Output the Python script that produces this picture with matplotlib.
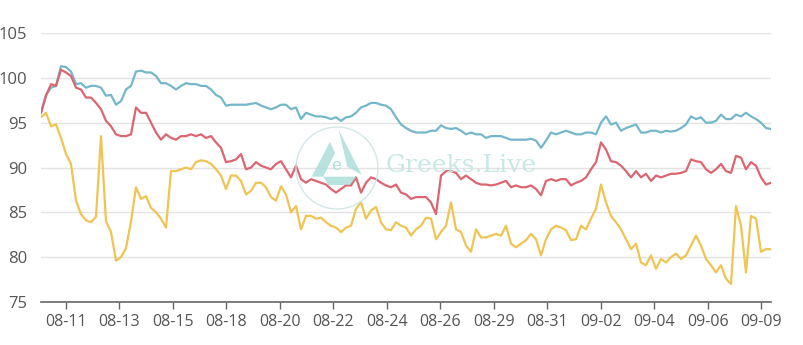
import matplotlib
matplotlib.use("Agg")
import matplotlib.pyplot as plt
from matplotlib.patches import Circle, Polygon
import numpy as np

tick_labels = ["08-11", "08-13", "08-15", "08-18", "08-20", "08-22", "08-24",
               "08-26", "08-29", "08-31", "09-02", "09-04", "09-06", "09-09"]

blue = [96.1, 98.1, 98.9, 99.1, 101.3, 101.2, 100.7, 99.3, 99.4, 98.9, 99.1, 99.1, 98.9, 98.0, 98.1,
        97.0, 97.4, 98.7, 99.1, 100.7, 100.8, 100.6, 100.6, 100.2, 99.4,
        99.4, 99.1, 98.7, 99.1, 99.4, 99.3, 99.3, 99.1, 99.1, 98.7, 98.1, 97.8, 96.9, 97.0, 97.0, 97.0,
        97.0, 97.1, 97.2, 96.9, 96.7, 96.5, 96.7, 97.0,
        97.0, 96.5, 96.7, 95.4, 96.1, 95.9, 95.7, 95.7, 95.6, 95.4, 95.6, 95.2, 95.6, 95.7, 96.1, 96.7,
        96.9, 97.2, 97.2, 97.0, 96.9, 96.5, 95.6, 94.8,
        94.4, 94.1, 93.9, 93.9, 93.9, 94.1, 94.1, 94.7, 94.4, 94.3, 94.4, 94.1, 93.7, 93.9, 93.7, 93.7,
        93.3, 93.5, 93.5, 93.5, 93.3, 93.1, 93.1, 93.1,
        93.1, 93.2, 93.0, 92.2, 93.0, 93.9, 93.7, 93.9, 94.1, 93.9, 93.7, 93.7, 93.9, 93.9, 93.7, 95.0,
        95.7, 94.8, 95.0, 94.1, 94.4, 94.6, 94.8, 93.9,
        93.9, 94.1, 94.1, 93.9, 94.1, 94.0, 94.1, 94.4, 94.8, 95.7, 95.4, 95.6, 95.0, 95.0, 95.2, 95.9,
        95.4, 95.4, 95.9, 95.7, 96.1, 95.7, 95.4, 95.0, 94.4, 94.3]

red = [96.1, 98.0, 99.3, 99.1, 100.9, 100.6, 100.2, 98.9, 98.7, 97.8, 97.8, 97.2, 96.5, 95.2, 94.6,
       93.7, 93.5, 93.5, 93.7, 96.7, 96.1, 96.1, 95.0, 93.9, 93.1,
       93.7, 93.3, 93.1, 93.5, 93.5, 93.7, 93.5, 93.7, 93.3, 93.5, 92.8, 92.2, 90.6, 90.7, 90.9, 91.5,
       89.8, 90.0, 90.6, 90.2, 90.0, 89.8, 90.4, 90.7,
       89.8, 88.9, 90.2, 88.7, 88.3, 88.7, 88.5, 88.3, 88.1, 87.6, 87.2, 87.6, 88.0, 88.0, 88.9, 87.2,
       88.3, 88.9, 88.7, 88.3, 88.0, 87.8, 88.1, 87.2,
       87.0, 86.5, 86.7, 86.7, 86.7, 86.1, 84.8, 89.1, 89.6, 89.6, 89.4, 88.7, 89.1, 88.7, 88.3, 88.1,
       88.1, 88.0, 88.1, 88.3, 88.5, 87.8, 88.0, 87.8,
       87.8, 88.0, 87.6, 86.9, 88.5, 88.7, 88.5, 88.7, 88.7, 88.0, 88.3, 88.5, 88.9, 89.8, 90.6, 92.8,
       92.0, 90.7, 90.6, 90.2, 89.6, 88.9, 89.6, 88.9,
       89.3, 88.5, 89.1, 88.9, 89.1, 89.3, 89.3, 89.4, 89.6, 90.9, 90.7, 90.6, 89.8, 89.4, 89.8, 90.4,
       89.6, 89.4, 91.3, 91.1, 89.8, 90.6, 90.2, 88.9, 88.1, 88.3]

yellow = [95.6, 96.1, 94.6, 94.8, 93.3, 91.5, 90.4, 86.3, 84.8, 84.1, 83.9, 84.5, 93.5, 84.0, 82.8,
          79.6, 80.0, 81.0, 84.0, 87.8, 86.5, 86.8, 85.5, 85.0, 84.3,
          83.3, 89.6, 89.6, 89.8, 90.0, 89.8, 90.6, 90.8, 90.7, 90.4, 89.8, 89.1, 87.6, 89.1, 89.1, 88.5,
          87.0, 87.4, 88.3, 88.3, 87.8, 86.7, 86.3, 87.9,
          87.0, 85.0, 85.7, 83.1, 84.6, 84.6, 84.3, 84.4, 83.9, 83.5, 83.3, 82.8, 83.3, 83.5, 85.4, 86.1,
          84.3, 85.2, 85.6, 83.9, 83.1, 83.0, 83.9, 83.5,
          83.3, 82.4, 83.1, 83.5, 84.4, 84.3, 82.0, 82.8, 83.5, 86.1, 83.1, 82.8, 81.3, 80.6, 83.1, 82.2,
          82.2, 82.4, 82.6, 82.4, 83.5, 81.5, 81.1, 81.5,
          81.9, 82.6, 82.0, 80.2, 82.0, 83.1, 83.5, 83.3, 83.0, 81.9, 82.0, 83.5, 83.1, 84.3, 85.4, 88.1,
          86.1, 84.6, 83.9, 83.1, 82.0, 80.9, 81.5, 79.4,
          79.1, 80.2, 78.7, 79.8, 79.4, 80.0, 80.4, 79.8, 80.2, 81.3, 82.4, 81.3, 79.8, 79.1, 78.3, 79.1,
          77.6, 77.0, 85.7, 83.5, 78.3, 84.6, 84.3, 80.6, 80.9, 80.9]

W, H = 804, 345
fig = plt.figure(figsize=(W / 100, H / 100), dpi=100)
fig.patch.set_facecolor("white")
ax = fig.add_axes([41 / W, 43 / H, (771 - 41) / W, (312 - 43) / H])

x = np.arange(len(blue))
ax.plot(x, blue, color="#74b7ca", lw=1.6, zorder=3)
ax.plot(x, red, color="#db6570", lw=1.6, zorder=3)
ax.plot(x, yellow, color="#efc453", lw=1.6, zorder=3)

ax.set_xlim(0, len(blue) - 1)
ax.set_ylim(75, 105)
ax.set_yticks([75, 80, 85, 90, 95, 100, 105])
tick_pos = [4.94 + 10.7 * k for k in range(len(tick_labels))]
ax.set_xticks(tick_pos)
ax.set_xticklabels(tick_labels)

ax.grid(axis="y", color="#e3e3e3", lw=1)
ax.set_axisbelow(True)
for s in ["top", "right", "left"]:
    ax.spines[s].set_visible(False)
ax.spines["bottom"].set_color("#666666")
ax.spines["bottom"].set_linewidth(1.2)
ax.tick_params(axis="x", colors="#666666", length=5, width=1, labelsize=11.5, pad=4,
               labelcolor="#555555")
ax.tick_params(axis="y", length=0, labelsize=12, pad=10, labelcolor="#555555")
for lab in ax.get_xticklabels() + ax.get_yticklabels():
    lab.set_family("Open Sans")

# watermark (pixel coordinates overlay)
wm = fig.add_axes([0, 0, 1, 1], facecolor="none")
wm.set_xlim(0, W)
wm.set_ylim(H, 0)
wm.axis("off")
logo = "#a6dcd6"
wm.add_patch(Circle((337, 168), 41, fill=False, ec="#cfe3e6", lw=1.0, alpha=0.9))
wm.add_patch(Polygon([(338.7, 130), (361.7, 175), (347.3, 166.7)], closed=True,
                     fc=logo, ec="none", alpha=0.8))
wm.add_patch(Polygon([(330, 141.7), (311.7, 176.7), (323.3, 176.7), (335, 153)], closed=True,
                     fc=logo, ec="none", alpha=0.8))
wm.add_patch(Polygon([(323.3, 176.7), (356.7, 176.7), (350, 185), (328.3, 185)], closed=True,
                     fc=logo, ec="none", alpha=0.8))
wm.text(336.5, 165, "e", fontsize=12, color=logo, ha="center", va="center",
        family="DejaVu Serif", alpha=0.95)
wm.text(386, 165, "Greeks.Live", fontsize=18, color="#c3e5e1", ha="left", va="center",
        family="DejaVu Serif", alpha=0.9)

fig.savefig("out.png", dpi=100, facecolor="white")
